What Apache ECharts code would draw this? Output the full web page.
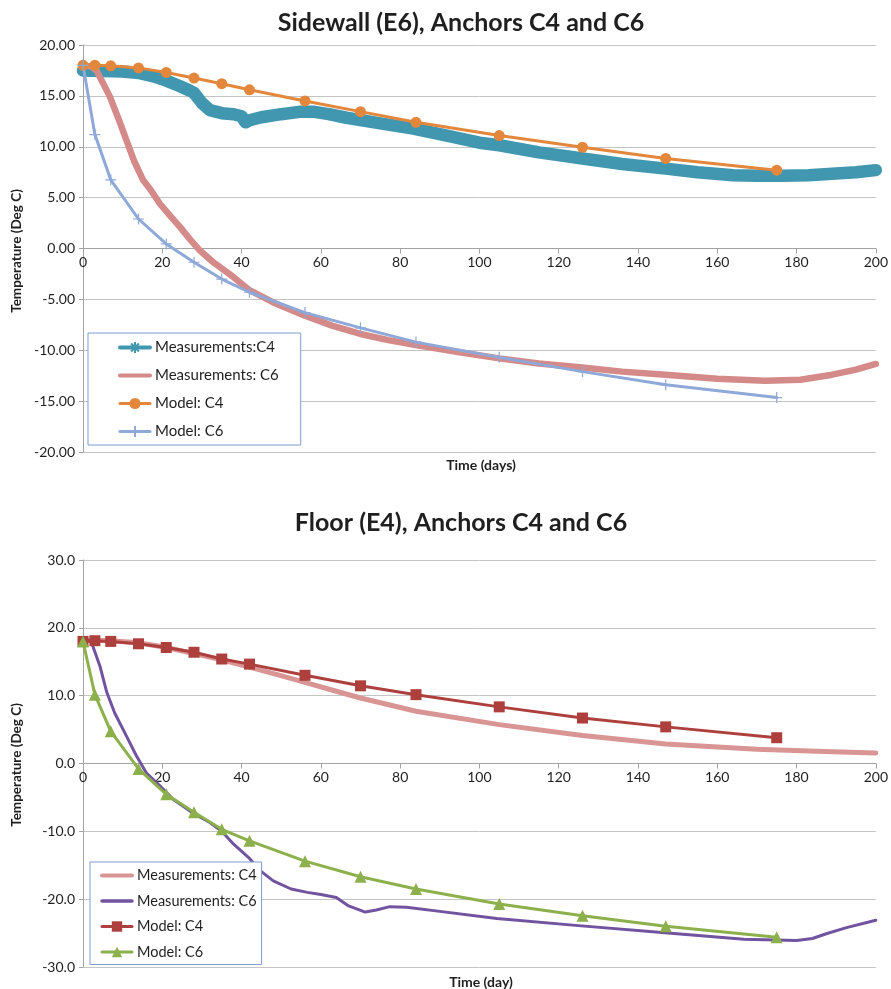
<!DOCTYPE html>
<html>
<head>
<meta charset="utf-8">
<script src="https://cdn.jsdelivr.net/npm/echarts@6/dist/echarts.min.js"></script>
<style>
  html, body { margin: 0; padding: 0; background: #fff; }
  #sidewall { width: 891px; height: 490px; }
  #floor { width: 891px; height: 499px; }
</style>
</head>
<body>
<div id="sidewall"></div>
<div id="floor"></div>
<script>
// ---- Shared axis values ----
const dayTicks = { min: 0, max: 200, step: 20 };
const modelDays = [0, 3, 7, 14, 21, 28, 35, 42, 56, 70, 84, 105, 126, 147, 175];

// ---- Sidewall (E6) ----
const sidewallMeasC4 = [
  [0, 17.5], [5, 17.45], [10, 17.4], [14, 17.25], [18, 16.9], [21, 16.5], [24.5, 15.95],
  [27, 15.5], [28, 15.3], [30, 14.3], [32, 13.6], [35, 13.3], [38, 13.2], [40, 13.0],
  [41, 12.4], [42, 12.6], [45, 12.9], [50, 13.2], [55, 13.45], [58, 13.45], [62, 13.2],
  [66.5, 12.85], [75, 12.3], [83, 11.8], [90, 11.25], [100, 10.4], [105, 10.15],
  [115, 9.45], [126, 8.84], [136, 8.3], [147, 7.85], [155, 7.5], [164, 7.2], [170, 7.15],
  [176.5, 7.15], [183, 7.2], [189, 7.35], [195, 7.5], [200, 7.7]
];
const sidewallMeasC6 = [
  [0, 18.0], [2, 17.9], [3.4, 17.5], [5, 16.3], [6.8, 14.9], [9, 12.7], [11, 10.6],
  [13, 8.5], [15.2, 6.7], [17, 5.8], [19.4, 4.4], [22, 3.2], [24.5, 2.1], [27, 0.9],
  [29.5, -0.2], [33, -1.4], [37.9, -2.8], [42, -4.1], [48, -5.3], [56, -6.6], [63, -7.6],
  [70, -8.4], [77, -9.0], [84, -9.5], [95, -10.2], [105, -10.8], [115, -11.3], [126, -11.7],
  [136, -12.1], [147, -12.4], [160, -12.8], [172, -13.0], [181, -12.9], [189, -12.4],
  [195, -11.9], [200, -11.35]
];
const sidewallModelC4 = [18.0, 18.0, 17.95, 17.75, 17.3, 16.75, 16.2, 15.6, 14.5, 13.45, 12.4, 11.1, 9.95, 8.85, 7.7];
const sidewallModelC6 = [18.0, 11.2, 6.75, 2.9, 0.45, -1.35, -3.0, -4.3, -6.3, -7.8, -9.2, -10.7, -12.1, -13.4, -14.65];
const sidewallTempTicks = { min: -20, max: 20, step: 5 };

// ---- Floor (E4) ----
const floorMeasC4 = [
  [0, 18.2], [7, 18.1], [14, 17.8], [21, 17.1], [28, 16.2], [35, 15.3], [42, 14.2],
  [49, 13.1], [56, 11.96], [63, 10.8], [70, 9.66], [84, 7.7], [105, 5.73], [126, 4.12],
  [147, 2.89], [170, 2.1], [185, 1.8], [200, 1.55]
];
const floorMeasC6 = [
  [0, 18.2], [2, 18.1], [4.3, 14.3], [6, 10.5], [8, 7.45], [11, 4.0], [13.5, 1.1],
  [16, -1.4], [19.4, -3.3], [22.8, -5.3], [28, -7.4], [32, -8.7], [35, -10.0], [38, -11.9],
  [42, -14.0], [44.7, -15.8], [48, -17.3], [52.5, -18.5], [56.6, -19.0], [60, -19.3],
  [63.9, -19.75], [67, -21.0], [71.2, -21.9], [74, -21.6], [77.4, -21.1], [81.6, -21.2],
  [90, -21.8], [104.4, -22.85], [125, -23.9], [146, -24.9], [166.7, -25.9], [180, -26.1],
  [184, -25.8], [187.5, -25.1], [192.6, -24.2], [200, -23.1]
];
const floorModelC4 = [18.0, 18.1, 18.0, 17.65, 17.1, 16.4, 15.4, 14.65, 13.0, 11.45, 10.15, 8.35, 6.7, 5.4, 3.8];
const floorModelC6 = [18.0, 10.15, 4.75, -0.8, -4.55, -7.2, -9.7, -11.4, -14.4, -16.7, -18.5, -20.7, -22.45, -24.0, -25.6];
const floorTempTicks = { min: -30, max: 30, step: 10 };

// ---- Styling ----
const FONT = 'Lato, "Liberation Sans", sans-serif';
const TEXT = '#1f1f1f';
const AXIS = '#a3a3a3';
const GRID = '#c4c4c4';
const LEGEND_BORDER = '#7f9dd0';
const ASTERISK = 'path://M5,0L5,10M0,5L10,5M1.5,1.5L8.5,8.5M8.5,1.5L1.5,8.5';
const PLUS = 'path://M5,0L5,10M0,5L10,5';
const PLOT_HEIGHT = 407;

const zip = (xs, ys) => xs.map((x, i) => [x, ys[i]]);

// The day axis sits on the 0 °C line, which is mid-height in both plots.
function axes(tempTicks, decimals) {
  return {
    xAxis: {
      type: 'value', min: dayTicks.min, max: dayTicks.max, interval: dayTicks.step,
      position: 'bottom', offset: -PLOT_HEIGHT / 2,
      axisLine: { onZero: false, lineStyle: { color: AXIS, width: 1 } },
      axisTick: { show: true, length: 5, lineStyle: { color: AXIS } },
      axisLabel: { fontFamily: FONT, fontSize: 14, color: TEXT, margin: 7 },
      splitLine: { show: false }
    },
    yAxis: {
      type: 'value', min: tempTicks.min, max: tempTicks.max, interval: tempTicks.step,
      axisLine: { show: true, onZero: false, lineStyle: { color: AXIS, width: 1 } },
      axisTick: { show: true, length: 4, lineStyle: { color: AXIS } },
      axisLabel: { fontFamily: FONT, fontSize: 14, color: TEXT, margin: 8,
                   formatter: v => v.toFixed(decimals) },
      splitLine: { show: true, lineStyle: { color: GRID, width: 1 } }
    }
  };
}

function titleText(text, topPx) {
  return { text, left: 461, top: topPx, textAlign: 'center', padding: 0,
           textStyle: { fontFamily: FONT, fontSize: 25, fontWeight: 'bold', color: TEXT } };
}

function axisNames(yName, yCenter, xName, xCenter) {
  const font = { fontFamily: FONT, fontWeight: 'bold', fill: TEXT };
  return [
    { type: 'text', x: 17, y: yCenter, rotation: Math.PI / 2, silent: true,
      style: Object.assign({ text: yName, fontSize: 13.5, align: 'center', verticalAlign: 'middle' }, font) },
    { type: 'text', x: 481, y: xCenter, silent: true,
      style: Object.assign({ text: xName, fontSize: 14, align: 'center', verticalAlign: 'middle' }, font) }
  ];
}

function lineSeries(name, data, color, width, extra) {
  return Object.assign({
    name, type: 'line', data, animation: false, silent: true,
    lineStyle: { color, width, cap: 'round', join: 'round' },
    itemStyle: { color },
    emphasis: { disabled: true }
  }, extra || {});
}

// ---- Sidewall chart ----
const teal = '#4197b0', rose = '#d48a89', orange = '#e2873b', periwinkle = '#8ea8d8';
const sidewallChart = echarts.init(document.getElementById('sidewall'), null, { renderer: 'canvas' });
const sidewallAxes = axes(sidewallTempTicks, 2);
sidewallChart.setOption({
  animation: false,
  backgroundColor: '#fff',
  title: titleText('Sidewall (E6), Anchors C4 and C6', 10),
  grid: { left: 83, top: 45, width: 793, height: PLOT_HEIGHT, containLabel: false },
  xAxis: sidewallAxes.xAxis,
  yAxis: sidewallAxes.yAxis,
  legend: {
    orient: 'vertical', left: 88, top: 333, padding: [7, 22, 6, 30],
    itemWidth: 30, itemHeight: 14, itemGap: 13,
    borderColor: LEGEND_BORDER, borderWidth: 1, backgroundColor: '#fff',
    textStyle: { fontFamily: FONT, fontSize: 15, color: TEXT },
    selectedMode: false,
    data: [
      { name: 'Measurements:C4', lineStyle: { width: 4 } },
      { name: 'Measurements: C6', lineStyle: { width: 4 }, itemStyle: { opacity: 0 } },
      { name: 'Model: C4', lineStyle: { width: 3 } },
      { name: 'Model: C6', lineStyle: { width: 3 } }
    ]
  },
  graphic: axisNames('Temperature (Deg C)', 251, 'Time (days)', 465),
  series: [
    lineSeries('Measurements:C4', sidewallMeasC4, teal, 12.5,
      { symbol: ASTERISK, showSymbol: false,
        itemStyle: { color: teal, borderColor: teal, borderWidth: 1.5 } }),
    lineSeries('Measurements: C6', sidewallMeasC6, rose, 6.5, { symbol: 'none' }),
    lineSeries('Model: C4', zip(modelDays, sidewallModelC4), orange, 3,
      { symbol: 'circle', symbolSize: 11, showSymbol: true }),
    lineSeries('Model: C6', zip(modelDays, sidewallModelC6), periwinkle, 3,
      { symbol: PLUS, symbolSize: 11, showSymbol: true,
        itemStyle: { color: periwinkle, borderColor: periwinkle, borderWidth: 1.2 } })
  ]
});

// ---- Floor chart ----
const blush = '#d99593', plum = '#7153a0', brick = '#ad403d', olive = '#8cb04b';
const floorChart = echarts.init(document.getElementById('floor'), null, { renderer: 'canvas' });
const floorAxes = axes(floorTempTicks, 1);
floorChart.setOption({
  animation: false,
  backgroundColor: '#fff',
  title: titleText('Floor (E4), Anchors C4 and C6', 20),
  grid: { left: 83, top: 70, width: 793, height: PLOT_HEIGHT, containLabel: false },
  xAxis: floorAxes.xAxis,
  yAxis: floorAxes.yAxis,
  legend: {
    orient: 'vertical', left: 90, top: 372, padding: [6, 5, 5, 10],
    itemWidth: 30, itemHeight: 13, itemGap: 10.5,
    borderColor: LEGEND_BORDER, borderWidth: 1, backgroundColor: '#fff',
    textStyle: { fontFamily: FONT, fontSize: 14.5, color: TEXT },
    selectedMode: false,
    data: [
      { name: 'Measurements: C4', lineStyle: { width: 4 }, itemStyle: { opacity: 0 } },
      { name: 'Measurements: C6', lineStyle: { width: 3.5 }, itemStyle: { opacity: 0 } },
      { name: 'Model: C4', lineStyle: { width: 3 } },
      { name: 'Model: C6', lineStyle: { width: 3 } }
    ]
  },
  graphic: axisNames('Temperature (Deg C)', 275, 'Time (day)', 492),
  series: [
    lineSeries('Measurements: C4', floorMeasC4, blush, 5, { symbol: 'none' }),
    lineSeries('Measurements: C6', floorMeasC6, plum, 3, { symbol: 'none' }),
    lineSeries('Model: C4', zip(modelDays, floorModelC4), brick, 3,
      { symbol: 'rect', symbolSize: 11, showSymbol: true }),
    lineSeries('Model: C6', zip(modelDays, floorModelC6), olive, 3,
      { symbol: 'triangle', symbolSize: 12, showSymbol: true })
  ]
});
</script>
</body>
</html>
